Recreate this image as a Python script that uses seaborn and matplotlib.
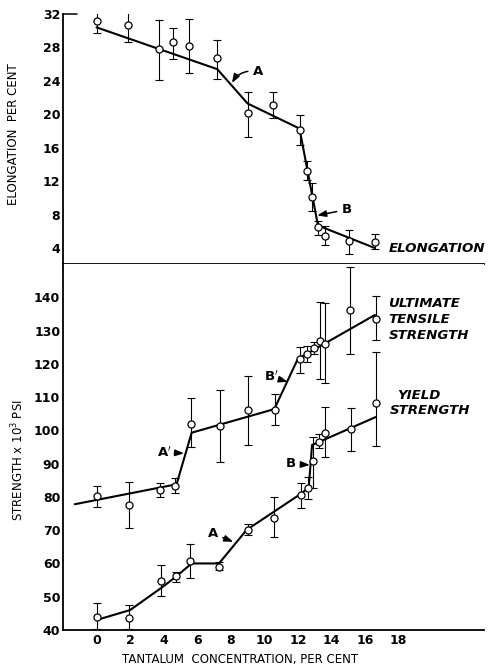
import matplotlib
matplotlib.use("Agg")
import matplotlib.pyplot as plt
import seaborn as sns
import pandas as pd
import numpy as np

# ---------------- data ----------------
elong_x = [0, 1.85, 3.7, 4.57, 5.5, 7.2, 9.0, 10.5, 12.12, 12.56, 12.82, 13.2, 13.6, 15.06, 16.6]
elong_y = [31.2, 30.65, 27.8, 28.6, 28.2, 26.7, 20.1, 21.1, 18.1, 13.25, 10.1, 6.5, 5.45, 4.85, 4.77]
elong_hi = [32.7, 32.5, 31.3, 30.3, 31.4, 28.9, 22.7, 22.7, 19.9, 14.4, 11.8, 7.2, 6.7, 6.16, 5.7]
elong_lo = [29.7, 28.6, 24.1, 26.6, 24.9, 24.2, 17.3, 19.6, 16.3, 12.2, 8.4, 5.6, 4.4, 3.25, 3.9]
elong_fit_x = [0, 7.2, 9.0, 12.1, 13.2, 16.6]
elong_fit_y = [30.4, 25.4, 21.3, 18.3, 6.7, 4.0]

uts_x = [0, 1.93, 3.8, 4.7, 5.62, 7.35, 9.04, 10.63, 12.15, 12.55, 12.95, 13.3, 13.65, 15.1, 16.64]
uts_y = [80.2, 77.7, 82.2, 83.4, 102.0, 101.2, 106.0, 106.2, 121.5, 123.0, 124.8, 127.0, 126.0, 136.2, 133.5]
uts_hi = [83.2, 84.5, 84.2, 85.8, 109.8, 112.0, 116.4, 111.0, 125.0, 125.5, 126.5, 138.7, 138.4, 149.2, 140.4]
uts_lo = [77.0, 70.8, 80.0, 81.2, 95.0, 90.5, 95.6, 101.7, 117.2, 120.7, 123.0, 115.5, 114.3, 122.9, 127.2]
uts_fit_x = [-1.3, 4.77, 5.67, 10.6, 12.0, 16.6]
uts_fit_y = [77.8, 83.8, 99.3, 106.4, 121.5, 134.7]

ys_x = [0, 1.95, 3.84, 4.73, 5.6, 7.3, 9.0, 10.58, 12.19, 12.6, 12.92, 13.27, 13.65, 15.15, 16.64]
ys_y = [44.0, 43.5, 54.8, 56.2, 60.8, 59.0, 70.2, 73.8, 80.6, 82.6, 90.9, 96.4, 99.3, 100.4, 108.2]
ys_hi = [48.2, 47.5, 59.5, 57.5, 65.9, 60.5, 72.0, 80.1, 84.3, 85.9, 98.1, 98.9, 107.1, 106.7, 123.6]
ys_lo = [40.2, 40.2, 50.2, 54.5, 55.7, 58.0, 68.5, 67.9, 76.6, 79.3, 82.6, 94.6, 92.1, 93.9, 95.3]
ys_fit_x = [0, 2, 3.9, 4.73, 5.67, 7.3, 8.95, 12.2, 12.65, 12.85, 13.3, 16.64]
ys_fit_y = [43, 46, 52.8, 56, 60, 60, 70.1, 81, 82.8, 95.6, 96.6, 104.0]

x_ticks = [0, 2, 4, 6, 8, 10, 12, 14, 16, 18]
elong_ticks = [4, 8, 12, 16, 20, 24, 28, 32]
strength_ticks = [40, 50, 60, 70, 80, 90, 100, 110, 120, 130, 140]

# ---------------- style ----------------
sns.set_style("white")
plt.rcParams['font.family'] = ['DejaVu Sans']
plt.rcParams['text.color'] = 'black'
plt.rcParams['axes.labelcolor'] = 'black'
plt.rcParams['xtick.color'] = 'black'
plt.rcParams['ytick.color'] = 'black'

W, H = 501, 666
fig = plt.figure(figsize=(W / 100, H / 100), dpi=100)
L, R = 63, 484
top_t, mid, bot_b = 14, 264, 630
ax_top = fig.add_axes([L / W, 1 - mid / H, (R - L) / W, (mid - top_t) / H])
ax_bot = fig.add_axes([L / W, 1 - bot_b / H, (R - L) / W, (bot_b - mid) / H])

XL = (-2.0, 23.1)

def draw(ax, x, y, lo, hi, fx, fy):
    y = np.array(y); lo = np.array(lo); hi = np.array(hi)
    ax.errorbar(x, y, yerr=[y - lo, hi - y], fmt='none', ecolor='black',
                elinewidth=0.8, capsize=2.6, capthick=0.8, zorder=2)
    sns.lineplot(x=fx, y=fy, ax=ax, color='black', lw=1.5, sort=False,
                 estimator=None, zorder=3)
    sns.scatterplot(x=list(x), y=list(y), ax=ax, marker='o', s=26,
                    facecolor='white', edgecolor='black', linewidth=0.9, zorder=4)

draw(ax_top, elong_x, elong_y, elong_lo, elong_hi, elong_fit_x, elong_fit_y)
draw(ax_bot, uts_x, uts_y, uts_lo, uts_hi, uts_fit_x, uts_fit_y)
draw(ax_bot, ys_x, ys_y, ys_lo, ys_hi, ys_fit_x, ys_fit_y)

for ax in (ax_top, ax_bot):
    ax.set_xlim(*XL)
    for s in ('top', 'right'):
        ax.spines[s].set_visible(False)
    for s in ('left', 'bottom'):
        ax.spines[s].set_linewidth(1.3)
        ax.spines[s].set_color('black')

ax_top.set_ylim(32 - (mid - top_t) / 8.36, 32)
ax_bot.set_ylim(40, 40 + (bot_b - mid) / 3.327)

ax_top.set_xticks([])
ax_top.set_yticks(elong_ticks)
ax_bot.set_yticks(strength_ticks)
ax_bot.set_xticks(x_ticks)

tick_font = dict(fontsize=9, fontweight='bold', color='black')
ax_top.set_yticklabels([str(t) for t in elong_ticks], **tick_font)
ax_bot.set_yticklabels([str(t) for t in strength_ticks], **tick_font)
ax_bot.set_xticklabels([str(t) for t in x_ticks], **tick_font)
ax_top.tick_params(axis='y', direction='in', length=5, width=1.1, pad=2, colors='black')
ax_bot.tick_params(axis='y', direction='in', length=6, width=1.1, pad=2, colors='black')
ax_bot.tick_params(axis='x', direction='in', length=9, width=1.1, pad=3, colors='black')
# the longer top tick at 32
ax_top.plot([XL[0], XL[0] + 0.85], [32, 32], color='black', lw=1.1, clip_on=False)

lab_font = dict(fontsize=8.5, color='black')
ax_top.set_ylabel('ELONGATION  PER CENT', **lab_font)
ax_top.yaxis.set_label_coords(-0.102, 0.52)
ax_bot.set_ylabel('STRENGTH x 10$^3$ PSI', **lab_font)
ax_bot.yaxis.set_label_coords(-0.086, 0.463)
ax_bot.set_xlabel('TANTALUM  CONCENTRATION, PER CENT', **lab_font)
ax_bot.xaxis.set_label_coords(0.42, -0.062)

# ---------------- annotations ----------------
arr = dict(arrowstyle='-|>,head_length=0.55,head_width=0.2', color='black', lw=1.1,
           shrinkA=1, shrinkB=0)
ann_font = dict(fontsize=9.5, fontweight='bold', ha='center', va='center', color='black')
ax_top.annotate('A', xy=(8.07, 23.75), xytext=(9.6, 25.1),
                arrowprops=dict(arr, connectionstyle='arc3,rad=0.35'), **ann_font)
ax_top.annotate('B', xy=(13.15, 7.9), xytext=(14.9, 8.6), arrowprops=arr, **ann_font)
ax_bot.annotate("A$'$", xy=(5.22, 93.1), xytext=(4.03, 93.4), arrowprops=arr, **ann_font)
ax_bot.annotate("B$'$", xy=(11.4, 114.6), xytext=(10.43, 116.0), arrowprops=arr, **ann_font)
ax_bot.annotate('A', xy=(8.15, 66.5), xytext=(6.95, 68.9), arrowprops=arr, **ann_font)
ax_bot.annotate('B', xy=(12.72, 89.6), xytext=(11.6, 89.9), arrowprops=arr, **ann_font)

lbl = dict(fontsize=9.6, fontweight='bold', fontstyle='italic', ha='left', va='center',
           color='black')
ax_top.text(17.4, 3.9, 'ELONGATION', **lbl)
ax_bot.text(17.4, 138.2, 'ULTIMATE', **lbl)
ax_bot.text(17.4, 133.4, 'TENSILE', **lbl)
ax_bot.text(17.4, 128.4, 'STRENGTH', **lbl)
ax_bot.text(17.9, 110.6, 'YIELD', **lbl)
ax_bot.text(17.5, 106.1, 'STRENGTH', **lbl)

fig.savefig('out.png', dpi=100, facecolor='white')
